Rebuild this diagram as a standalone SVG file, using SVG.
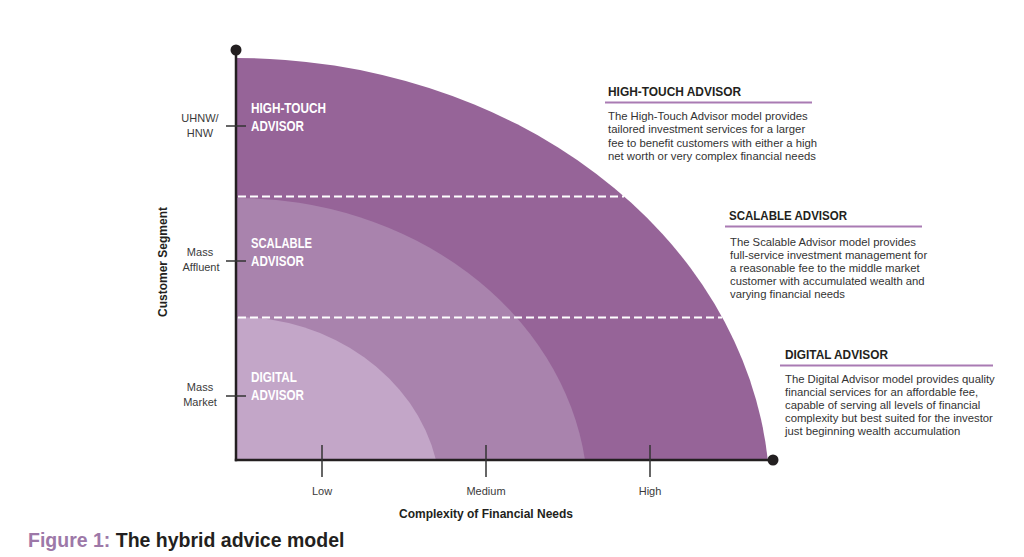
<svg xmlns="http://www.w3.org/2000/svg" width="1024" height="557" viewBox="0 0 1024 557">
<style>
.cn{font-family:"Liberation Sans",Arial,sans-serif}
.lab{font-size:11px;fill:#3a3a3a;text-anchor:middle}
.reg{font-size:14px;font-weight:bold;fill:#ffffff}
.ttl{font-size:12.5px;font-weight:bold;fill:#231f20}
.body{font-size:11.3px;fill:#333333}
.ax{font-size:12px;font-weight:bold;fill:#231f20;text-anchor:middle}
.tick{stroke:#333333;stroke-width:1.5}
.dash{stroke:#ffffff;stroke-width:2;stroke-dasharray:8 4;fill:none}
.ul{stroke:#a97bb3;stroke-width:2}
</style>
<rect width="1024" height="557" fill="#ffffff"/>
<g id="high-touch-region">
<path d="M236,460 L236,58 A534,442 0 0,1 767.8,460 Z" fill="#966498"/>
</g>
<g id="scalable-region">
<path d="M236,460 L236,198 A352,302 0 0,1 585,460 Z" fill="#a983ad"/>
</g>
<g id="digital-region">
<path d="M236,460 L236,317 A205,183 0 0,1 436,460 Z" fill="#c3a6c8"/>
</g>
<g id="dividers">
<line class="dash" x1="238" y1="196.5" x2="624" y2="196.5"/>
<line class="dash" x1="238" y1="317.5" x2="722" y2="317.5"/>
</g>
<g id="region-labels" class="cn">
<text class="reg" x="251" y="113" textLength="75" lengthAdjust="spacingAndGlyphs">HIGH-TOUCH</text>
<text class="reg" x="251" y="130.5" textLength="53" lengthAdjust="spacingAndGlyphs">ADVISOR</text>
<text class="reg" x="251" y="248" textLength="61" lengthAdjust="spacingAndGlyphs">SCALABLE</text>
<text class="reg" x="251" y="266" textLength="53" lengthAdjust="spacingAndGlyphs">ADVISOR</text>
<text class="reg" x="251" y="382" textLength="46" lengthAdjust="spacingAndGlyphs">DIGITAL</text>
<text class="reg" x="251" y="400" textLength="53" lengthAdjust="spacingAndGlyphs">ADVISOR</text>
</g>
<g id="connectors">
<line x1="236" y1="50" x2="236" y2="461.2" stroke="#231f20" stroke-width="2.5"/>
<line x1="234.8" y1="460" x2="773" y2="460" stroke="#231f20" stroke-width="2.5"/>
<circle cx="236" cy="50" r="5.5" fill="#231f20"/>
<circle cx="773" cy="460" r="5.5" fill="#231f20"/>
<line class="tick" x1="226" y1="126" x2="246" y2="126"/>
<line class="tick" x1="226" y1="261" x2="246" y2="261"/>
<line class="tick" x1="226" y1="396" x2="246" y2="396"/>
<line class="tick" x1="322" y1="445" x2="322" y2="477"/>
<line class="tick" x1="486" y1="445" x2="486" y2="477"/>
<line class="tick" x1="650" y1="445" x2="650" y2="477"/>
</g>
<g id="y-axis-labels" class="cn">
<text class="lab" x="200" y="122">UHNW/</text>
<text class="lab" x="200" y="137">HNW</text>
<text class="lab" x="200" y="256">Mass</text>
<text class="lab" x="201" y="271">Affluent</text>
<text class="lab" x="200" y="391">Mass</text>
<text class="lab" x="200" y="406">Market</text>
<text class="ax" transform="translate(167,262) rotate(-90)">Customer Segment</text>
</g>
<g id="x-axis-labels" class="cn">
<text class="lab" x="322" y="495">Low</text>
<text class="lab" x="486" y="495">Medium</text>
<text class="lab" x="650" y="495">High</text>
<text class="ax" x="486" y="518">Complexity of Financial Needs</text>
</g>
<g id="high-touch-info" class="cn">
<text class="ttl" x="608" y="96" textLength="133" lengthAdjust="spacingAndGlyphs">HIGH-TOUCH ADVISOR</text>
<line class="ul" x1="605" y1="102.5" x2="812" y2="102.5"/>
<text class="body" x="608" y="119.5">The High-Touch Advisor model provides</text>
<text class="body" x="608" y="133">tailored investment services for a larger</text>
<text class="body" x="608" y="146.5">fee to benefit customers with either a high</text>
<text class="body" x="608" y="160">net worth or very complex financial needs</text>
</g>
<g id="scalable-info" class="cn">
<text class="ttl" x="729" y="220" textLength="118" lengthAdjust="spacingAndGlyphs">SCALABLE ADVISOR</text>
<line class="ul" x1="725" y1="226.5" x2="922" y2="226.5"/>
<text class="body" x="730" y="245.5">The Scalable Advisor model provides</text>
<text class="body" x="730" y="258.5">full-service investment management for</text>
<text class="body" x="730" y="271.5">a reasonable fee to the middle market</text>
<text class="body" x="730" y="284.5">customer with accumulated wealth and</text>
<text class="body" x="730" y="297.5">varying financial needs</text>
</g>
<g id="digital-info" class="cn">
<text class="ttl" x="785" y="359" textLength="103" lengthAdjust="spacingAndGlyphs">DIGITAL ADVISOR</text>
<line class="ul" x1="780" y1="365.5" x2="993" y2="365.5"/>
<text class="body" x="785" y="383">The Digital Advisor model provides quality</text>
<text class="body" x="785" y="396">financial services for an affordable fee,</text>
<text class="body" x="785" y="409">capable of serving all levels of financial</text>
<text class="body" x="785" y="421.5">complexity but best suited for the investor</text>
<text class="body" x="785" y="434.5">just beginning wealth accumulation</text>
</g>
<g id="caption">
<text x="28" y="547" font-family="Liberation Sans,Arial,sans-serif" font-size="19.5" font-weight="bold"><tspan fill="#9d78a8">Figure 1: </tspan><tspan fill="#231f20">The hybrid advice model</tspan></text>
</g>
</svg>
